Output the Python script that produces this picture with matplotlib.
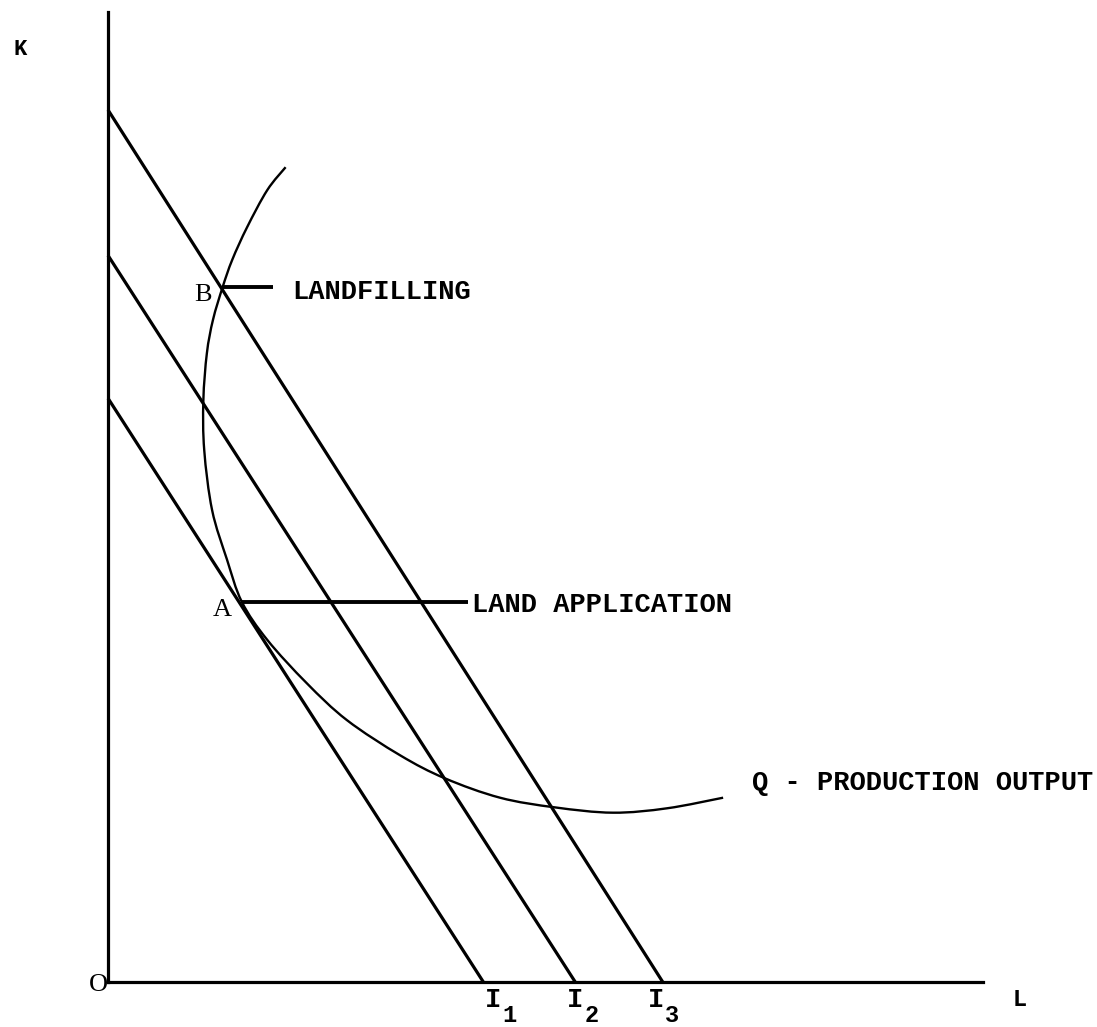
import matplotlib
matplotlib.use("Agg")
import matplotlib.pyplot as plt
from matplotlib.path import Path
from matplotlib.patches import PathPatch
import numpy as np

# ---- data (economic diagram units) ----
iso_names = ["I1", "I2", "I3"]
iso_k_intercepts = [6.62, 8.24, 9.89]
iso_l_intercepts = [4.29, 5.34, 6.34]
iso_label_x = [4.40, 5.34, 6.26]
iso_subscripts = ["1", "2", "3"]

q_L = [2.03, 1.82, 1.59, 1.42, 1.31, 1.20, 1.13, 1.09, 1.10, 1.19, 1.36, 1.53,
       1.82, 2.27, 2.73, 3.34, 3.85, 4.48, 5.11, 5.77, 6.39, 7.03]
q_K = [9.24, 8.98, 8.56, 8.19, 7.88, 7.51, 7.13, 6.60, 6.03, 5.35, 4.79, 4.31,
       3.88, 3.39, 2.97, 2.57, 2.31, 2.09, 1.98, 1.92, 1.97, 2.09]

point_names = ["B", "A"]
point_L = [1.31, 1.53]
point_K = [7.88, 4.31]
leader_end_L = [1.89, 4.11]
leader_texts = ["LANDFILLING", "LAND APPLICATION"]
leader_text_L = [2.11, 4.16]
leader_text_K = [7.82, 4.28]

q_label = "Q - PRODUCTION OUTPUT"
q_label_pos = (7.36, 2.26)

W, H = 1097, 1027
fig = plt.figure(figsize=(W / 100, H / 100), dpi=100)
ax = fig.add_axes([108 / W, (H - 982) / H, (983 - 108) / W, (982 - 12) / H])
ax.set_xlim(0, 10)
ax.set_ylim(0, 11)
for s in ["top", "right"]:
    ax.spines[s].set_visible(False)
for s in ["left", "bottom"]:
    ax.spines[s].set_linewidth(2.3)
    ax.spines[s].set_color("black")
ax.set_xticks([])
ax.set_yticks([])

font = dict(family=["Liberation Mono", "DejaVu Sans Mono"], fontweight="bold",
            fontsize=19.5, color="black")

# isocost lines
for k0, l0 in zip(iso_k_intercepts, iso_l_intercepts):
    ax.plot([0, l0], [k0, 0], color="black", lw=2.3, solid_capstyle="butt",
            clip_on=False)

# isoquant: smooth cubic Bezier path through the read points
P = np.column_stack([q_L, q_K])
verts = [tuple(P[0])]
codes = [Path.MOVETO]
n = len(P)
for i in range(n - 1):
    p0 = P[i - 1] if i > 0 else P[i]
    p1 = P[i]
    p2 = P[i + 1]
    p3 = P[i + 2] if i + 2 < n else P[i + 1]
    c1 = p1 + (p2 - p0) / 6.0
    c2 = p2 - (p3 - p1) / 6.0
    verts += [tuple(c1), tuple(c2), tuple(p2)]
    codes += [Path.CURVE4] * 3
ax.add_patch(PathPatch(Path(verts, codes), facecolor="none", edgecolor="black",
                       lw=1.7, clip_on=False))

# point labels and leader lines
for name, x, y, xe, txt, tx, ty in zip(point_names, point_L, point_K, leader_end_L,
                                       leader_texts, leader_text_L, leader_text_K):
    ax.plot([x, xe], [y, y], color="black", lw=2.8, solid_capstyle="butt")
    ax.annotate(name, xy=(x, y), xytext=(-20, -8), textcoords="offset pixels",
                ha="center", va="center", fontfamily="Liberation Serif",
                fontsize=19, color="black")
    ax.text(tx, ty, txt, ha="left", va="center", **font)

ax.text(q_label_pos[0], q_label_pos[1], q_label, ha="left", va="center", **font)

# isocost labels
for lx, sub in zip(iso_label_x, iso_subscripts):
    ax.annotate("I", xy=(lx, 0), xytext=(0, -18), textcoords="offset pixels",
                ha="center", va="center", annotation_clip=False, **font)
    ax.annotate(sub, xy=(lx, 0), xytext=(16, -33), textcoords="offset pixels",
                ha="center", va="center", annotation_clip=False,
                **dict(font, fontsize=17))

# axis labels
ax.text(-1.0, 10.57, "K", ha="center", va="center", clip_on=False,
        **dict(font, fontsize=16))
ax.text(-0.11, -0.03, "O", ha="center", va="center", clip_on=False,
        fontfamily="Liberation Serif", fontsize=19, color="black")
ax.text(10.42, -0.20, "L", ha="center", va="center", clip_on=False,
        **dict(font, fontsize=17))

fig.savefig("out.png", dpi=100, facecolor="white")
